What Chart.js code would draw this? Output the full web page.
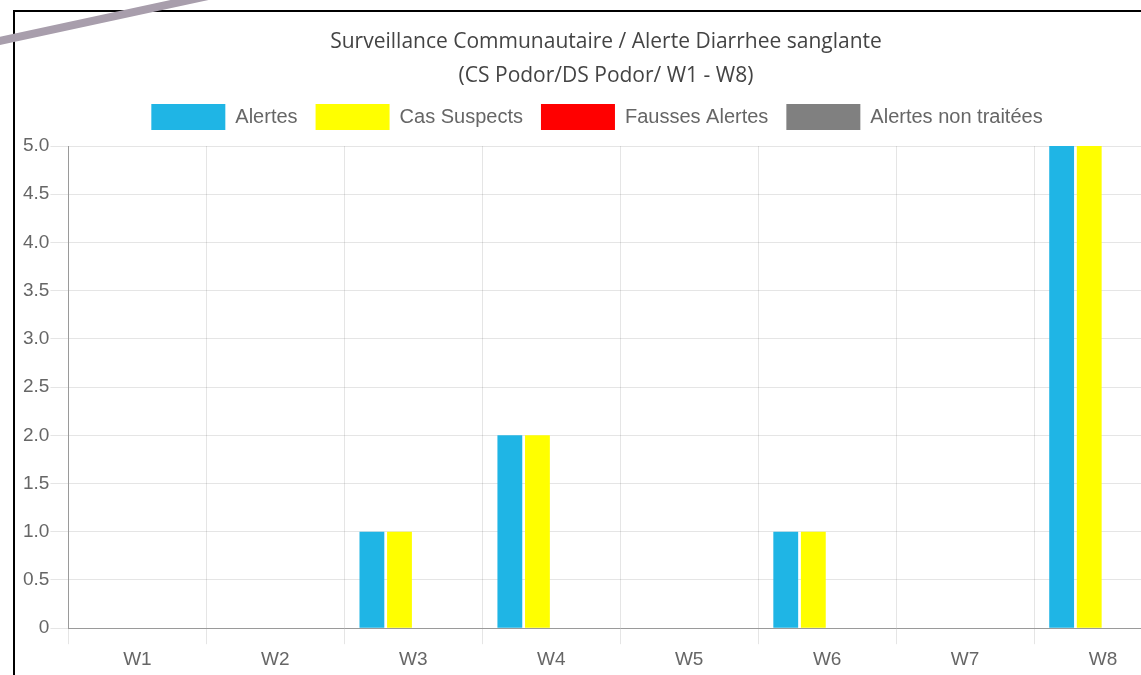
<!DOCTYPE html>
<html>
<head>
<meta charset="utf-8">
<script src="https://cdn.jsdelivr.net/npm/chart.js@4/dist/chart.umd.min.js"></script>
<style>
    html, body { margin: 0; padding: 0; background: #fff; overflow: hidden; width: 1141px; height: 675px; }
    #frame { position: absolute; left: 13px; top: 10px; width: 1300px; height: 800px; border: 2px solid #000; }
    #chartBox { position: absolute; left: 0; top: 0; width: 1182px; height: 663px; }
    #stroke { position: absolute; left: -10px; top: 38.5px; width: 232px; height: 8px; background: #a89eac;
              transform-origin: 0 50%; transform: rotate(-12.16deg); z-index: 5; }
</style>
</head>
<body>
<div id="frame">
    <div id="chartBox"><canvas id="chart"></canvas></div>
</div>
<div id="stroke"></div>
<script>
    // Weekly data
    var weeks = ['W1', 'W2', 'W3', 'W4', 'W5', 'W6', 'W7', 'W8'];
    var alertes = [0, 0, 1, 2, 0, 1, 0, 5];
    var casSuspects = [0, 0, 1, 2, 0, 1, 0, 5];
    var faussesAlertes = [0, 0, 0, 0, 0, 0, 0, 0];
    var alertesNonTraitees = [0, 0, 0, 0, 0, 0, 0, 0];

    var titleLines = ['Surveillance Communautaire / Alerte Diarrhee sanglante', '(CS Podor/DS Podor/ W1 - W8)'];

    // small layout tweaks so header sits like the original
    var titleShift = 9;
    var legendGap = 6;

    Chart.defaults.font.family = "'Liberation Sans', Arial, sans-serif";
    Chart.defaults.color = '#666';

    var headerTweaks = {
        id: 'headerTweaks',
        beforeInit: function(chart) {
            var legend = chart.legend;
            if (!legend) return;
            var origFit = legend.fit;
            legend.fit = function() {
                origFit.call(this);
                this.height += legendGap;
            };
        },
        afterLayout: function(chart) {
            var t = chart.titleBlock;
            if (t) {
                t.left += titleShift;
                t.right += titleShift;
            }
        }
    };

    var ctx = document.getElementById('chart').getContext('2d');

    new Chart(ctx, {
        type: 'bar',
        data: {
            labels: weeks,
            datasets: [
                { label: 'Alertes', data: alertes, backgroundColor: '#1fb5e5' },
                { label: 'Cas Suspects', data: casSuspects, backgroundColor: '#ffff00' },
                { label: 'Fausses Alertes', data: faussesAlertes, backgroundColor: '#ff0000' },
                { label: 'Alertes non traitées', data: alertesNonTraitees, backgroundColor: '#808080' }
            ]
        },
        options: {
            responsive: true,
            maintainAspectRatio: false,
            animation: false,
            layout: { padding: { left: 7, right: 25, top: 2, bottom: 0 } },
            scales: {
                x: {
                    grid: { color: 'rgba(0,0,0,0.1)', tickLength: 16, offset: true },
                    border: { color: '#9a9a9a' },
                    ticks: { font: { size: 19 }, padding: 4 }
                },
                y: {
                    min: 0,
                    max: 5,
                    ticks: { stepSize: 0.5, font: { size: 19 }, padding: 1 },
                    grid: { color: 'rgba(0,0,0,0.1)', tickLength: 18 },
                    border: { color: '#9a9a9a' }
                }
            },
            plugins: {
                title: {
                    display: true,
                    text: titleLines,
                    color: '#444',
                    font: { family: "'Open Sans', sans-serif", size: 21, weight: 'normal', lineHeight: 1.62 },
                    padding: { top: 11, bottom: -7 }
                },
                legend: {
                    labels: {
                        boxWidth: 74,
                        boxHeight: 26,
                        padding: 18,
                        font: { size: 20 }
                    }
                },
                tooltip: { enabled: false }
            }
        },
        plugins: [headerTweaks]
    });
</script>
</body>
</html>
